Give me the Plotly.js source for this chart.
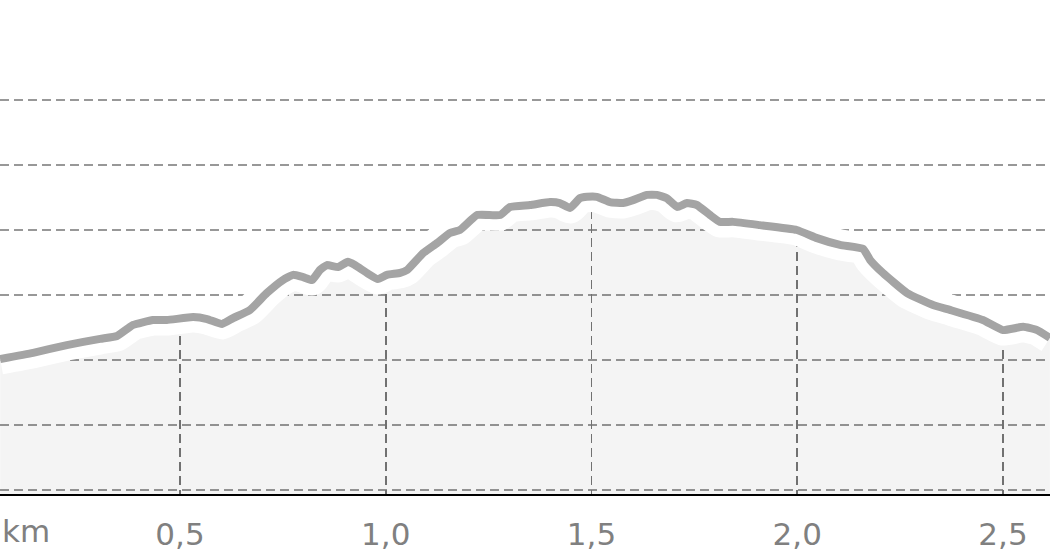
<!DOCTYPE html>
<html>
<head>
<meta charset="utf-8">
<script src="https://cdn.plot.ly/plotly-3.0.1.min.js"></script>
<style>
html,body{margin:0;padding:0;background:#fff;}
#chart{width:1050px;height:560px;}
</style>
</head>
<body>
<div id="chart"></div>
<script>
// Distance along the route (km)
const distanceKm = [0.063,0.143,0.225,0.306,0.347,0.371,0.386,0.434,0.468,0.532,0.566,0.602,0.629,0.670,0.711,0.750,0.775,0.799,0.821,0.840,0.857,0.884,0.908,0.925,0.954,0.981,1.003,1.035,1.052,1.091,1.125,1.156,1.180,1.222,1.278,1.302,1.351,1.399,1.423,1.448,1.472,1.489,1.513,1.545,1.577,1.601,1.635,1.659,1.683,1.708,1.732,1.756,1.788,1.812,1.844,1.909,1.999,2.048,2.104,2.160,2.177,2.208,2.267,2.330,2.371,2.451,2.500,2.549,2.583,2.614];
// Elevation (m)
const elevationM = [380.3,382.2,384.6,386.5,387.4,389.5,390.8,392.3,392.3,393.2,392.6,391.1,392.9,395.4,400.6,404.6,406.2,405.5,404.6,407.7,409.2,408.6,410.2,409.2,406.8,404.9,406.2,406.8,407.7,412.9,416.0,419.1,420.0,424.6,424.6,427.1,427.7,428.6,428.3,426.8,429.8,430.2,430.2,428.6,428.3,429.2,430.8,430.8,429.8,427.1,428.3,427.7,424.6,422.5,422.5,421.5,420.0,417.5,415.4,414.2,410.8,406.8,400.6,396.9,395.4,392.3,389.2,390.2,389.2,386.8];
// Horizontal grid levels (m)
const gridLevels = [340,360,380,400,420,440,460];
// X tick positions and labels
const xTickVals = [0.5,1.0,1.5,2.0,2.5];
const xTickText = ['0,5','1,0','1,5','2,0','2,5'];
const unitLabel = 'km';

const xRange = [0.0626, 2.6142];
const yRange = [338.77, 490.77];

const maskTop = distanceKm.map(() => yRange[1] + 50);

const gx = [], gy = [];
gridLevels.forEach(v => { gx.push(xRange[0], xRange[1], null); gy.push(v, v, null); });

const lineShape = {shape: 'spline', smoothing: 0.4};

const traces = [
  {x: distanceKm, y: maskTop, mode: 'lines', line: {width: 0}, hoverinfo: 'skip', showlegend: false},
  {x: distanceKm, y: elevationM, mode: 'lines', fill: 'tonexty', fillcolor: '#ffffff', line: Object.assign({width: 0}, lineShape), hoverinfo: 'skip', showlegend: false},
  {x: gx, y: gy, mode: 'lines', line: {color: '#777777', width: 1.6, dash: '9px,5px'}, hoverinfo: 'skip', showlegend: false},
  {x: distanceKm, y: elevationM, mode: 'lines', fill: 'tozeroy', fillcolor: 'rgba(0,0,0,0.045)', line: Object.assign({width: 0}, lineShape), hoverinfo: 'skip', showlegend: false},
  {x: distanceKm, y: elevationM, mode: 'lines', line: Object.assign({color: '#ffffff', width: 31}, lineShape), hoverinfo: 'skip', showlegend: false},
  {x: distanceKm, y: elevationM, mode: 'lines', line: Object.assign({color: '#a4a4a4', width: 8}, lineShape), hoverinfo: 'skip', showlegend: false}
];

const layout = {
  width: 1050, height: 560,
  margin: {l: 0, r: 0, t: 0, b: 66},
  paper_bgcolor: '#ffffff', plot_bgcolor: '#ffffff',
  showlegend: false,
  font: {family: 'DejaVu Sans, sans-serif', size: 32, color: '#808080'},
  xaxis: {
    range: xRange, fixedrange: true,
    tickvals: xTickVals, ticktext: xTickText,
    showgrid: true, gridcolor: '#777777', gridwidth: 1.6, griddash: '9px,5px',
    zeroline: false,
    showline: true, linecolor: '#000000', linewidth: 2,
    ticks: 'outside', ticklen: 12, tickcolor: 'rgba(0,0,0,0)',
    tickfont: {family: 'DejaVu Sans, sans-serif', size: 31, color: '#808080'}
  },
  yaxis: {
    range: yRange, fixedrange: true,
    showgrid: false, zeroline: false, showticklabels: false, showline: false
  },
  annotations: [{
    text: unitLabel, xref: 'paper', yref: 'paper', x: 0, y: 0,
    xanchor: 'left', yanchor: 'top', showarrow: false, xshift: 0, yshift: -17,
    font: {family: 'DejaVu Sans, sans-serif', size: 31, color: '#808080'}
  }]
};

Plotly.newPlot('chart', traces, layout, {staticPlot: true, displayModeBar: false});
</script>
</body>
</html>
